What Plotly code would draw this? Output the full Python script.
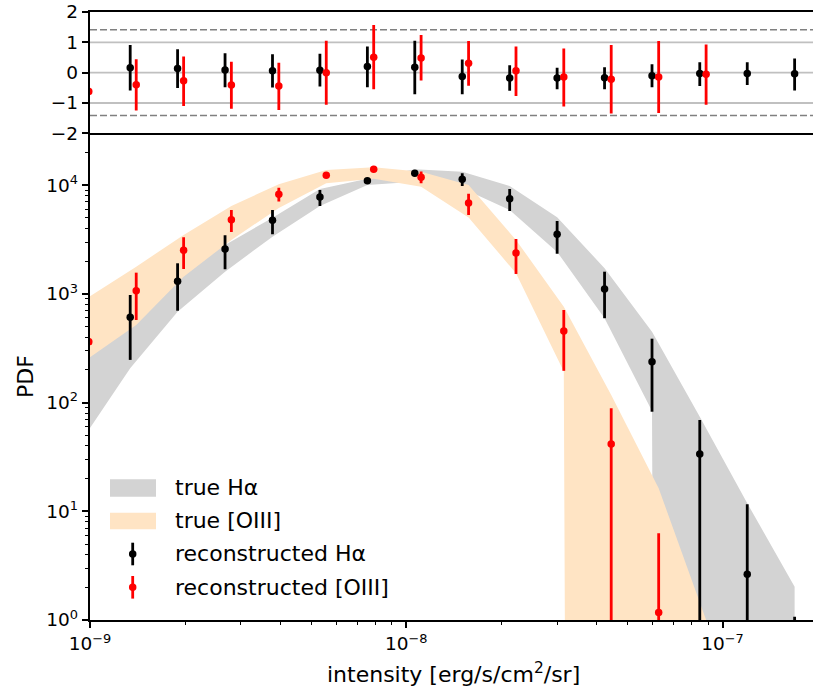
import plotly.graph_objects as go

# ---------------- data ----------------
# bin centres of the Halpha histogram [erg/s/cm2/sr]
ha_x = [1.340e-9, 1.892e-9, 2.673e-9, 3.776e-9, 5.333e-9, 7.534e-9, 1.064e-8, 1.503e-8,
        2.123e-8, 2.999e-8, 4.236e-8, 5.984e-8, 8.472e-8, 1.197e-7, 1.690e-7]
# bin centres of the [OIII] histogram
o3_x = [9.91e-10, 1.400e-9, 1.977e-9, 2.799e-9, 3.954e-9, 5.585e-9, 7.889e-9, 1.114e-8,
        1.574e-8, 2.223e-8, 3.148e-8, 4.446e-8, 6.281e-8, 8.872e-8]

# reconstructed PDFs with their 1-sigma ranges
ha_pdf = [609, 1306, 2588, 4753, 7786, 10990, 12850, 11320, 7500, 3535, 1109, 238, 33.7, 2.63, 0.9]
ha_hi = [977, 1911, 3460, 5913, 9040, 11400, 13300, 12850, 9230, 4690, 1600, 387, 69.2, 11.6, 1.07]
ha_lo = [247, 700, 1684, 3540, 6440, 10600, 12400, 9840, 5790, 2344, 597, 82.4, 0, 0, 0]

o3_pdf = [363, 1070, 2518, 4816, 8260, 12330, 14000, 11830, 6860, 2378, 456, 41.6, 1.17, 0]
o3_hi = [363, 1567, 3319, 5916, 9441, 12800, 14500, 13340, 8356, 3199, 711, 88.7, 6.28, 0]
o3_lo = [363, 575, 1694, 3707, 7063, 11900, 13500, 10420, 5321, 1524, 196, 0, 0, 0]

# true PDFs: log10 of the band edges (bins shifted by one to the left for Halpha)
ha_band_x = [9.48e-10] + ha_x
ha_band_up = [2.35, 2.90, 3.22, 3.45, 3.70, 3.965, 4.06, 4.146, 4.124, 3.993, 3.705,
              3.236, 2.652, 1.870, 1.074, 0.306]
ha_band_dn = [1.665, 2.316, 2.836, 3.204, 3.526, 3.809, 4.002, 4.032, 3.972, 3.772, 3.386,
              2.776, 1.923, -100, -100, -100]
o3_band_up = [2.971, 3.250, 3.542, 3.809, 4.008, 4.139, 4.165, 4.124, 4.002, 3.496, 2.882,
              2.070, 1.212, 0.0]
o3_band_dn = [2.410, 2.714, 3.158, 3.496, 3.790, 4.017, 4.060, 3.986, 3.702, 3.190, 2.285,
              -100, -100, -100]

# normalised residuals (value, upper end, lower end)
ha_res = [0.16, 0.14, 0.09, 0.06, 0.08, 0.20, 0.18, -0.13, -0.18, -0.18, -0.17, -0.10, -0.03, -0.03, -0.04]
ha_res_hi = [0.91, 0.77, 0.64, 0.61, 0.62, 0.86, 1.05, 0.43, 0.24, 0.16, 0.18, 0.28, 0.34, 0.34, 0.47]
ha_res_lo = [-0.59, -0.51, -0.48, -0.49, -0.46, -0.48, -0.71, -0.71, -0.60, -0.55, -0.55, -0.48, -0.44, -0.41, -0.59]

o3_res = [-0.62, -0.40, -0.27, -0.41, -0.44, 0.00, 0.51, 0.48, 0.31, 0.06, -0.14, -0.22, -0.14, -0.05]
o3_res_hi = [-0.62, 0.44, 0.53, 0.36, 0.33, 1.05, 1.57, 1.24, 1.04, 0.86, 0.80, 0.91, 1.04, 0.93]
o3_res_lo = [-0.62, -1.25, -1.10, -1.19, -1.23, -1.06, -0.55, -0.26, -0.43, -0.77, -1.12, -1.35, -1.33, -1.06]

x_ticks = [1e-9, 1e-8, 1e-7]
x_ticktext = ["10<sup>\u22129</sup>", "10<sup>\u22128</sup>", "10<sup>\u22127</sup>"]
y_ticks = [1, 10, 100, 1000, 10000]
y_ticktext = ["10<sup>0</sup>", "10<sup>1</sup>", "10<sup>2</sup>", "10<sup>3</sup>", "10<sup>4</sup>"]
res_ticks = [-2, -1, 0, 1, 2]

# ---------------- style ----------------
FONT = "DejaVu Sans"
GRAY_BAND = "#d3d3d3"
ORANGE_BAND = "#ffe4c4"
ERR_W = 2.8
MS = 7.5

W, H = 813, 690
ML, MR, MT, MB = 90, 0, 12, 70
PW, PH = W - ML - MR, H - MT - MB
split = (620 - 133.3) / PH


def px(x):
    return (x - ML) / PW


def py(y):
    return (MT + PH - y) / PH


fig = go.Figure()

# ---- true PDF bands (bottom panel) ----
fig.add_trace(go.Scatter(
    x=ha_band_x + ha_band_x[::-1],
    y=[10 ** v for v in ha_band_up] + [10 ** v for v in ha_band_dn[::-1]],
    fill="toself", fillcolor=GRAY_BAND, line=dict(width=0), mode="lines",
    hoverinfo="skip", xaxis="x2", yaxis="y2", showlegend=False))
fig.add_trace(go.Scatter(
    x=o3_x + o3_x[::-1],
    y=[10 ** v for v in o3_band_up] + [10 ** v for v in o3_band_dn[::-1]],
    fill="toself", fillcolor=ORANGE_BAND, line=dict(width=0), mode="lines",
    hoverinfo="skip", xaxis="x2", yaxis="y2", showlegend=False))


def err_trace(x, y, hi, lo, color, xa, ya):
    """Markers with asymmetric error bars on a log axis; empty bins are skipped."""
    xs, ys, plus, minus = [], [], [], []
    for xv, v, h, l in zip(x, y, hi, lo):
        if v <= 0:
            continue
        xs.append(xv)
        ys.append(v)
        plus.append(max(h - v, 0))
        minus.append(max(v - (l if l > 0 else 1e-100), 0))
    return go.Scatter(
        x=xs, y=ys, mode="markers",
        marker=dict(color=color, size=MS, line=dict(width=0)),
        error_y=dict(type="data", symmetric=False, array=plus, arrayminus=minus,
                     color=color, thickness=ERR_W, width=0),
        xaxis=xa, yaxis=ya, showlegend=False, cliponaxis=True)


# ---- reconstructed PDFs ----
fig.add_trace(err_trace(ha_x, ha_pdf, ha_hi, ha_lo, "black", "x2", "y2"))
fig.add_trace(err_trace(o3_x, o3_pdf, o3_hi, o3_lo, "red", "x2", "y2"))


# ---- residuals (top panel) ----
def res_trace(x, y, hi, lo, color):
    return go.Scatter(
        x=x, y=y, mode="markers",
        marker=dict(color=color, size=MS, line=dict(width=0)),
        error_y=dict(type="data", symmetric=False,
                     array=[h - v for v, h in zip(y, hi)],
                     arrayminus=[v - l for v, l in zip(y, lo)],
                     color=color, thickness=ERR_W, width=0),
        xaxis="x", yaxis="y", showlegend=False, cliponaxis=True)


fig.add_trace(res_trace(ha_x, ha_res, ha_res_hi, ha_res_lo, "black"))
fig.add_trace(res_trace(o3_x, o3_res, o3_res_hi, o3_res_lo, "red"))

shapes = []
for level in (-1, 0, 1):
    shapes.append(dict(type="line", xref="x domain", yref="y", x0=0, x1=1, y0=level, y1=level,
                       line=dict(color="#c0c0c0", width=1.8), layer="below"))
for level in (-2 ** 0.5, 2 ** 0.5):
    shapes.append(dict(type="line", xref="x domain", yref="y", x0=0, x1=1, y0=level, y1=level,
                       line=dict(color="#808080", width=1.6, dash="7px,3px"), layer="below"))

# ---- legend ----
legend_font = dict(family=FONT, size=22, color="black")
shapes.append(dict(type="rect", xref="paper", yref="paper", x0=px(110), x1=px(156),
                   y0=py(496.7), y1=py(479.3), fillcolor=GRAY_BAND, line=dict(width=0)))
shapes.append(dict(type="rect", xref="paper", yref="paper", x0=px(110), x1=px(156),
                   y0=py(529.3), y1=py(512.7), fillcolor=ORANGE_BAND, line=dict(width=0)))
for yc, col in ((554, "black"), (587.3, "red")):
    shapes.append(dict(type="line", xref="paper", yref="paper", x0=px(132.7), x1=px(132.7),
                       y0=py(yc + 11.3), y1=py(yc - 11.3), line=dict(color=col, width=ERR_W)))
    r = MS / 2
    shapes.append(dict(type="circle", xref="paper", yref="paper",
                       x0=px(132.7 - r), x1=px(132.7 + r), y0=py(yc + r), y1=py(yc - r),
                       fillcolor=col, line=dict(width=0)))

annotations = []
for label, yc in (("true H\u03b1", 487.5), ("true [OIII]", 520.5),
                  ("reconstructed H\u03b1", 553.8), ("reconstructed [OIII]", 587.0)):
    annotations.append(dict(text=label, xref="paper", yref="paper", x=px(173), y=py(yc),
                            xanchor="left", yanchor="middle", showarrow=False, font=legend_font))

annotations.append(dict(text="PDF", xref="paper", yref="paper", x=px(25), y=py(377),
                        textangle=-90, xanchor="center", yanchor="middle", showarrow=False,
                        font=dict(family=FONT, size=22, color="black")))
annotations.append(dict(text="intensity [erg/s/cm<sup>2</sup>/sr]", xref="paper", yref="paper",
                        x=px(453.5), y=py(672.5), xanchor="center", yanchor="middle",
                        showarrow=False, font=dict(family=FONT, size=22, color="black")))

tick_font = dict(family=FONT, size=18.5, color="black")
x_minor = [m * 10 ** e for e in (-9, -8) for m in range(2, 10)]
y_minor = [m * 10 ** e for e in (0, 1, 2, 3) for m in range(2, 10)] + [2e4]
line_style = dict(showline=True, linecolor="black", linewidth=1.5, showgrid=False, zeroline=False)

fig.update_layout(
    width=W, height=H,
    margin=dict(l=ML, r=MR, t=MT, b=MB),
    paper_bgcolor="white", plot_bgcolor="white",
    font=dict(family=FONT, color="black"),
    shapes=shapes, annotations=annotations,
    # residual panel: its frame line at the bottom doubles as the top of the PDF panel
    xaxis=dict(domain=[0, 1], anchor="y", type="log", range=[-9, -6.714],
               showticklabels=False, ticks="", mirror=True, **line_style),
    yaxis=dict(domain=[split, 1], anchor="x", range=[-2, 2], tickvals=res_ticks,
               ticks="outside", ticklen=6.5, tickwidth=1.5, tickcolor="black",
               tickfont=tick_font, **line_style),
    xaxis2=dict(domain=[0, 1], anchor="y2", type="log", range=[-9, -6.714],
                tickmode="array", tickvals=x_ticks, ticktext=x_ticktext,
                ticks="outside", ticklen=6.5, tickwidth=1.5, tickcolor="black",
                tickfont=tick_font, mirror=False,
                minor=dict(tickmode="array", tickvals=x_minor, ticks="outside",
                           ticklen=3.7, tickwidth=1.2, tickcolor="black", showgrid=False),
                **line_style),
    yaxis2=dict(domain=[0, split], anchor="x2", type="log", range=[0, 4.477],
                tickmode="array", tickvals=y_ticks, ticktext=y_ticktext,
                ticks="outside", ticklen=6.5, tickwidth=1.5, tickcolor="black",
                tickfont=tick_font,
                minor=dict(tickmode="array", tickvals=y_minor, ticks="outside",
                           ticklen=3.7, tickwidth=1.2, tickcolor="black", showgrid=False),
                **line_style),
)

fig.write_html("out.html")
